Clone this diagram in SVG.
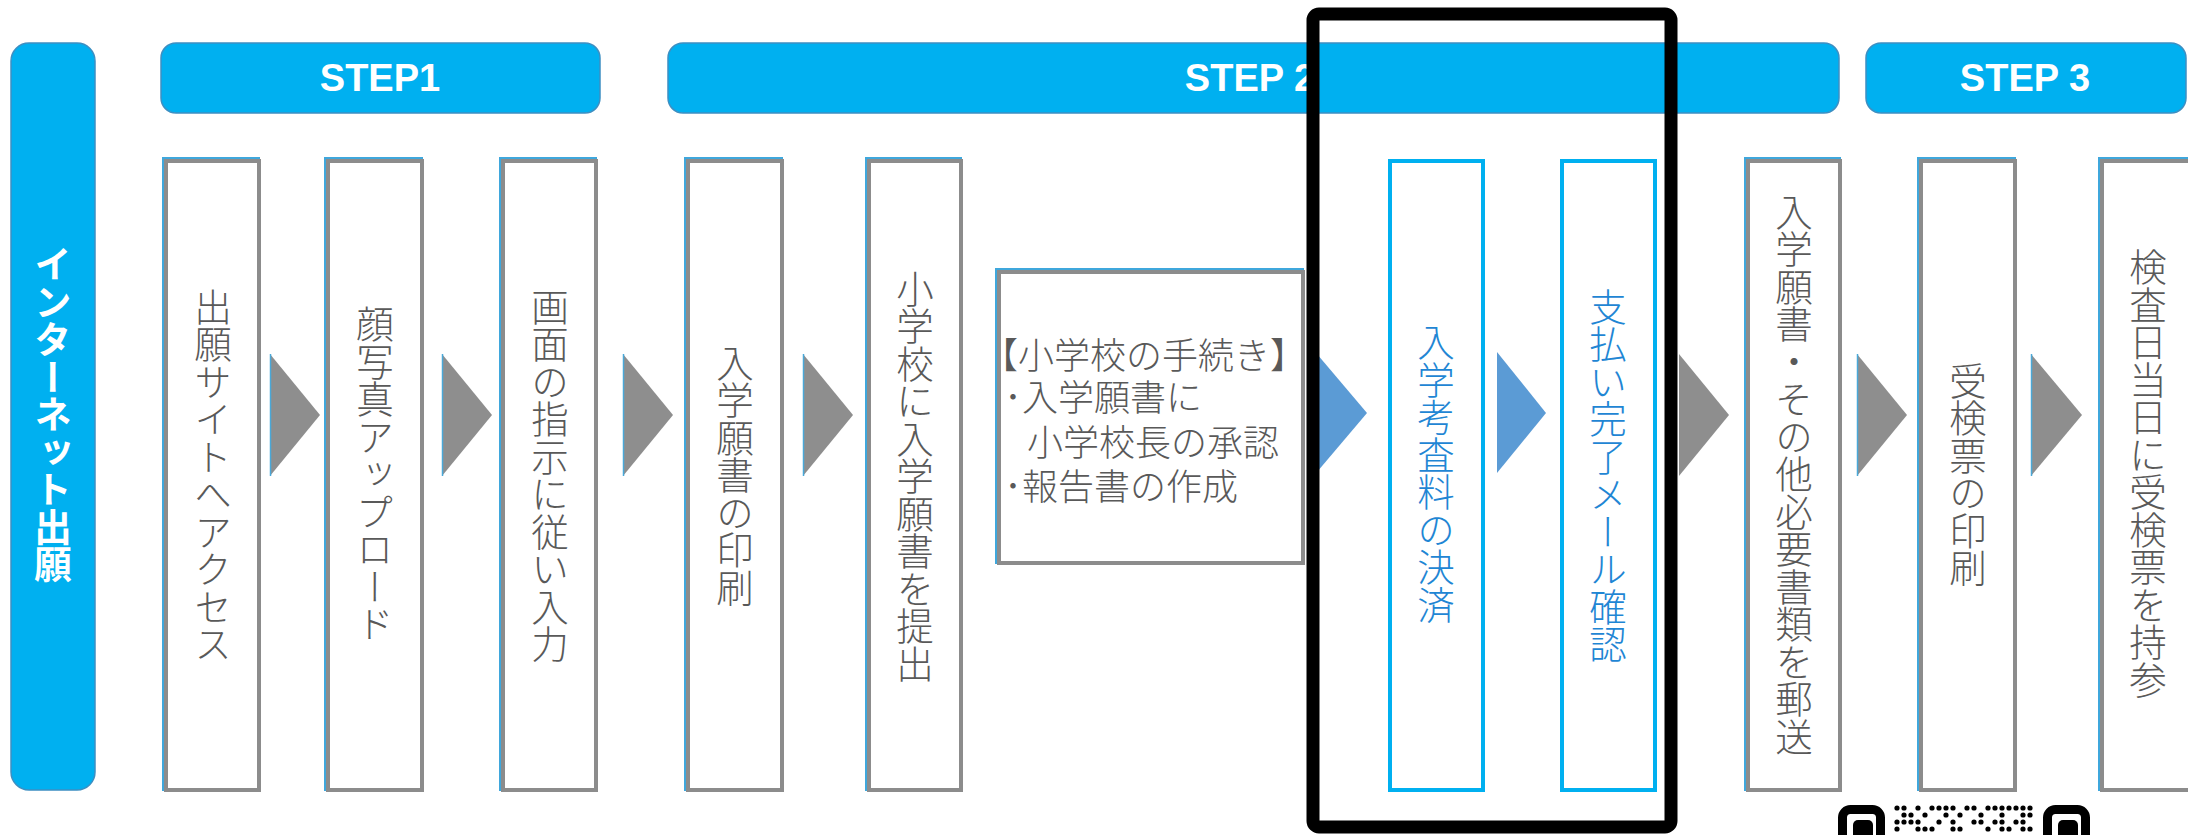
<svg xmlns="http://www.w3.org/2000/svg" width="2188" height="835" viewBox="0 0 2188 835">
<style>
.bg{fill:#ffffff}
.band{fill:#00b0f0;stroke:#3d8fc2;stroke-width:1.5}
.steptxt{font-family:"Liberation Sans",Arial,sans-serif;font-weight:bold;font-size:38px;fill:#ffffff;text-anchor:middle}
.side{font-family:"Noto Sans CJK JP",sans-serif;font-weight:bold;font-size:37.5px;fill:#ffffff;writing-mode:vertical-rl;text-anchor:middle}
.node{fill:#ffffff;stroke:#8c8c8c;stroke-width:4}
.edge{fill:none;stroke:#3fa7dc;stroke-width:2}
.bnode{fill:#ffffff;stroke:#00b0f0;stroke-width:4}
.vt{font-family:"Noto Sans CJK JP",sans-serif;font-weight:300;font-size:37.5px;fill:#595959;writing-mode:vertical-rl;text-anchor:middle}
.vtb{font-family:"Noto Sans CJK JP",sans-serif;font-weight:300;font-size:37.5px;fill:#1f86d4;writing-mode:vertical-rl;text-anchor:middle}
.ht{font-family:"Noto Sans CJK JP",sans-serif;font-weight:300;font-size:36px;fill:#595959}
.arr{fill:#8e8e8e}
.arrb{fill:#5b9bd5}
.arredge{stroke:#4aa8d8;stroke-width:1.5;fill:none}
.hl{fill:none;stroke:#000000;stroke-width:13}
.qr{fill:#000000}
.qrf{fill:none;stroke:#000000;stroke-width:9}
</style>
<rect class="bg" x="0" y="0" width="2188" height="835"/>

<g id="sidebar">
<rect class="band" x="11" y="43" width="84" height="747" rx="18"/>
<text class="side" x="53" y="414">インターネット出願</text>
</g>

<g id="step1">
<rect class="band" x="161" y="43" width="439" height="70" rx="15"/>
<text class="steptxt" x="380" y="91">STEP1</text>
</g>
<g id="step2">
<rect class="band" x="668" y="43" width="1171" height="70" rx="15"/>
<text class="steptxt" x="1250" y="91">STEP 2</text>
</g>
<g id="step3">
<rect class="band" x="1866" y="43" width="320" height="70" rx="15"/>
<text class="steptxt" x="2025" y="91">STEP 3</text>
</g>

<g id="connectors">
<polygon class="arr" points="270,354 320,415 270,476"/>
<line class="arredge" x1="270.5" y1="354" x2="270.5" y2="476"/>
<polygon class="arr" points="442,354 492,415 442,476"/>
<line class="arredge" x1="442.5" y1="354" x2="442.5" y2="476"/>
<polygon class="arr" points="623,354 673,415 623,476"/>
<line class="arredge" x1="623.5" y1="354" x2="623.5" y2="476"/>
<polygon class="arr" points="803,354 853,415 803,476"/>
<line class="arredge" x1="803.5" y1="354" x2="803.5" y2="476"/>
<polygon class="arrb" points="1317,354 1367,413 1317,472"/>
<polygon class="arrb" points="1497,352 1546,413 1497,473"/>
<polygon class="arr" points="1679,354 1729,415 1679,476"/>
<polygon class="arr" points="1857,354 1907,415 1857,476"/>
<line class="arredge" x1="1857.5" y1="354" x2="1857.5" y2="476"/>
<polygon class="arr" points="2031,354 2082,415 2031,476"/>
<line class="arredge" x1="2031.5" y1="354" x2="2031.5" y2="476"/>
</g>

<g id="n1">
<rect class="node" x="166" y="161" width="93" height="629"/>
<path class="edge" d="M163,791 V158 H260"/>
<text class="vt" x="213" y="475">出願サイトへアクセス</text>
</g>
<g id="n2">
<rect class="node" x="328" y="161" width="94" height="629"/>
<path class="edge" d="M325,791 V158 H423"/>
<text class="vt" x="375" y="474">顔写真アップロード</text>
</g>
<g id="n3">
<rect class="node" x="503" y="161" width="93" height="629"/>
<path class="edge" d="M500,791 V158 H597"/>
<text class="vt" x="550" y="475">画面の指示に従い入力</text>
</g>
<g id="n4">
<rect class="node" x="688" y="161" width="94" height="629"/>
<path class="edge" d="M685,791 V158 H783"/>
<text class="vt" x="735" y="475">入学願書の印刷</text>
</g>
<g id="n5">
<rect class="node" x="869" y="161" width="92" height="629"/>
<path class="edge" d="M866,791 V158 H962"/>
<text class="vt" x="915" y="476">小学校に入学願書を提出</text>
</g>
<g id="n6">
<rect class="node" x="999" y="272" width="304" height="291"/>
<path class="edge" d="M996,564 V269 H1304"/>
<text class="ht"><tspan x="982" y="369">【小学校の手続き】</tspan><tspan x="1004" y="411">･入学願書に</tspan><tspan x="1027" y="456">小学校長の承認</tspan><tspan x="1004" y="500">･報告書の作成</tspan></text>
</g>
<g id="n7">
<rect class="bnode" x="1390" y="161" width="93" height="629"/>
<text class="vtb" x="1436" y="473">入学考査料の決済</text>
</g>
<g id="n8">
<rect class="bnode" x="1562" y="161" width="93" height="629"/>
<text class="vtb" x="1608" y="475">支払い完了メール確認</text>
</g>
<g id="n9">
<rect class="node" x="1748" y="161" width="92" height="629"/>
<path class="edge" d="M1745,791 V158 H1841"/>
<text class="vt" x="1794" y="474">入学願書・その他必要書類を郵送</text>
</g>
<g id="n10">
<rect class="node" x="1921" y="161" width="94" height="629"/>
<path class="edge" d="M1918,791 V158 H2016"/>
<text class="vt" x="1968" y="474">受検票の印刷</text>
</g>
<g id="n11">
<rect class="node" x="2102" y="161" width="100" height="629"/>
<path class="edge" d="M2099,791 V158 H2200"/>
<text class="vt" x="2148" y="473">検査日当日に受検票を持参</text>
</g>

<g id="qr">
<rect class="qrf" x="1842.5" y="809.5" width="38" height="38" rx="8"/>
<rect class="qr" x="1853" y="820" width="20" height="20" rx="5"/>
<rect class="qrf" x="2047.5" y="809.5" width="38" height="38" rx="8"/>
<rect class="qr" x="2058" y="820" width="20" height="20" rx="5"/>
<g class="qr">
<circle cx="1897" cy="808" r="2.6"/><circle cx="1904" cy="808" r="2.6"/><circle cx="1918" cy="808" r="2.6"/><circle cx="1932" cy="808" r="2.6"/><circle cx="1939" cy="808" r="2.6"/><circle cx="1946" cy="808" r="2.6"/><circle cx="1953" cy="808" r="2.6"/><circle cx="1967" cy="808" r="2.6"/><circle cx="1974" cy="808" r="2.6"/><circle cx="1988" cy="808" r="2.6"/><circle cx="1995" cy="808" r="2.6"/><circle cx="2002" cy="808" r="2.6"/><circle cx="2009" cy="808" r="2.6"/><circle cx="2016" cy="808" r="2.6"/><circle cx="2023" cy="808" r="2.6"/><circle cx="2030" cy="808" r="2.6"/>
<circle cx="1904" cy="815" r="2.6"/><circle cx="1911" cy="815" r="2.6"/><circle cx="1925" cy="815" r="2.6"/><circle cx="1946" cy="815" r="2.6"/><circle cx="1960" cy="815" r="2.6"/><circle cx="1981" cy="815" r="2.6"/><circle cx="2002" cy="815" r="2.6"/><circle cx="2023" cy="815" r="2.6"/><circle cx="2030" cy="815" r="2.6"/>
<circle cx="1897" cy="822" r="2.6"/><circle cx="1904" cy="822" r="2.6"/><circle cx="1911" cy="822" r="2.6"/><circle cx="1918" cy="822" r="2.6"/><circle cx="1939" cy="822" r="2.6"/><circle cx="1953" cy="822" r="2.6"/><circle cx="1974" cy="822" r="2.6"/><circle cx="1981" cy="822" r="2.6"/><circle cx="1995" cy="822" r="2.6"/><circle cx="2002" cy="822" r="2.6"/><circle cx="2016" cy="822" r="2.6"/><circle cx="2023" cy="822" r="2.6"/>
<circle cx="1897" cy="829" r="2.6"/><circle cx="1918" cy="829" r="2.6"/><circle cx="1925" cy="829" r="2.6"/><circle cx="1932" cy="829" r="2.6"/><circle cx="1953" cy="829" r="2.6"/><circle cx="1960" cy="829" r="2.6"/><circle cx="1988" cy="829" r="2.6"/><circle cx="2002" cy="829" r="2.6"/><circle cx="2009" cy="829" r="2.6"/><circle cx="2023" cy="829" r="2.6"/><circle cx="2030" cy="829" r="2.6"/>
</g>
</g>

<g id="highlight">
<rect class="hl" x="1313" y="14" width="358" height="813" rx="6"/>
</g>
</svg>
